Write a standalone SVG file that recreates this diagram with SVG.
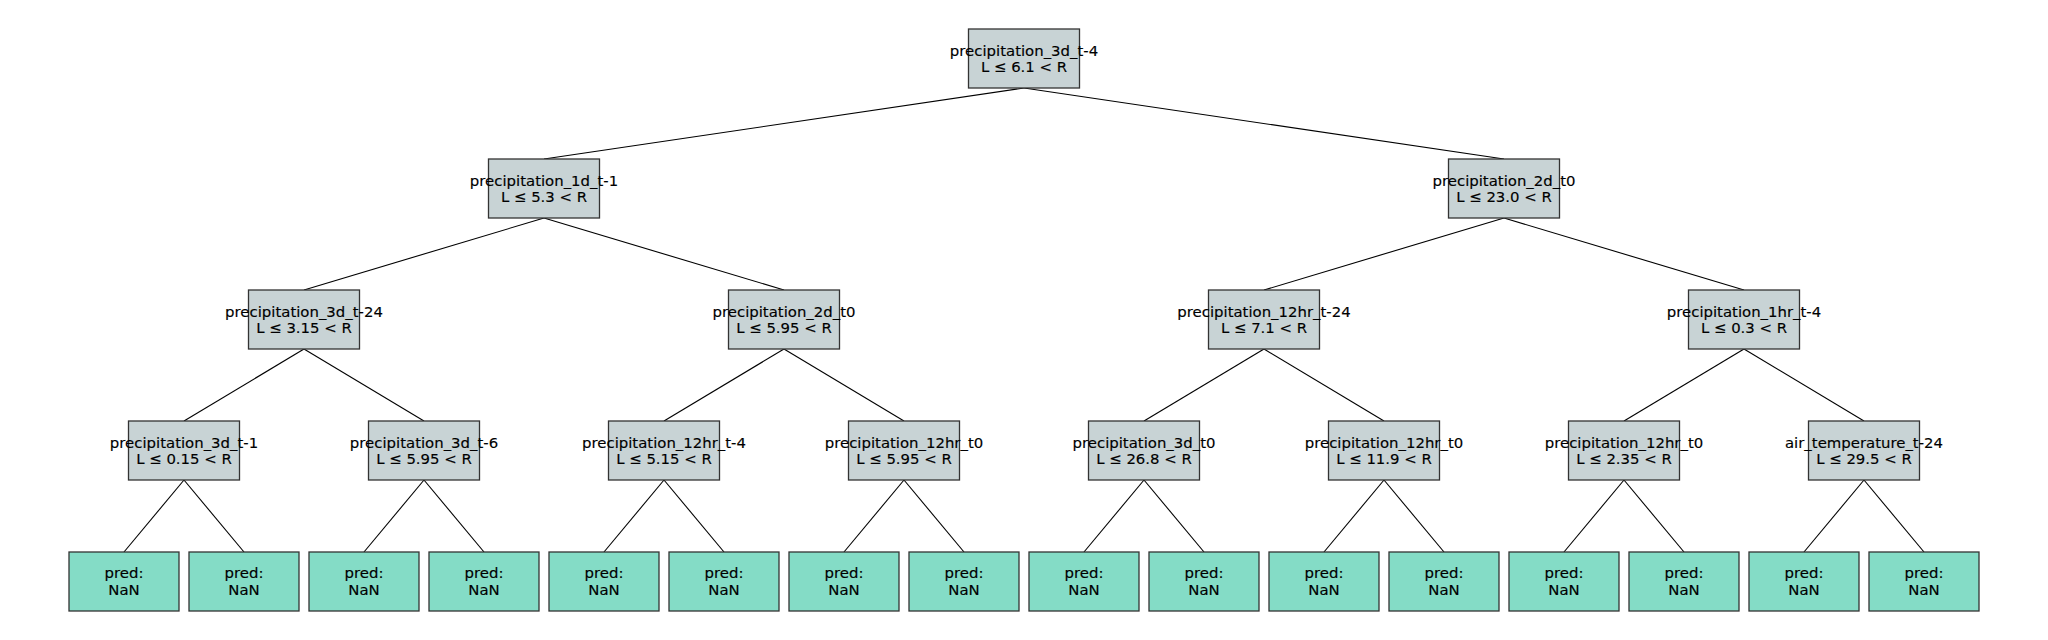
<svg xmlns="http://www.w3.org/2000/svg" width="2048" height="640" viewBox="0 0 2048 640">
<style>
.s{fill:#c8d3d5;stroke:#333;stroke-width:1.3}
.l{fill:#84dcc6;stroke:#333;stroke-width:1.3}
text{font-family:"DejaVu Sans",sans-serif;font-size:14.9px;fill:#000;stroke:#000;stroke-width:0.15;text-anchor:middle}
#edges line{stroke:#000;stroke-width:1.1}
</style>
<rect width="2048" height="640" fill="#fff"/>
<g id="edges">
<line x1="1024" y1="88" x2="544" y2="159"/>
<line x1="1024" y1="88" x2="1504" y2="159"/>
<line x1="544" y1="218" x2="304" y2="290"/>
<line x1="544" y1="218" x2="784" y2="290"/>
<line x1="1504" y1="218" x2="1264" y2="290"/>
<line x1="1504" y1="218" x2="1744" y2="290"/>
<line x1="304" y1="349" x2="184" y2="421"/>
<line x1="304" y1="349" x2="424" y2="421"/>
<line x1="784" y1="349" x2="664" y2="421"/>
<line x1="784" y1="349" x2="904" y2="421"/>
<line x1="1264" y1="349" x2="1144" y2="421"/>
<line x1="1264" y1="349" x2="1384" y2="421"/>
<line x1="1744" y1="349" x2="1624" y2="421"/>
<line x1="1744" y1="349" x2="1864" y2="421"/>
<line x1="184" y1="480" x2="124" y2="552"/>
<line x1="184" y1="480" x2="244" y2="552"/>
<line x1="424" y1="480" x2="364" y2="552"/>
<line x1="424" y1="480" x2="484" y2="552"/>
<line x1="664" y1="480" x2="604" y2="552"/>
<line x1="664" y1="480" x2="724" y2="552"/>
<line x1="904" y1="480" x2="844" y2="552"/>
<line x1="904" y1="480" x2="964" y2="552"/>
<line x1="1144" y1="480" x2="1084" y2="552"/>
<line x1="1144" y1="480" x2="1204" y2="552"/>
<line x1="1384" y1="480" x2="1324" y2="552"/>
<line x1="1384" y1="480" x2="1444" y2="552"/>
<line x1="1624" y1="480" x2="1564" y2="552"/>
<line x1="1624" y1="480" x2="1684" y2="552"/>
<line x1="1864" y1="480" x2="1804" y2="552"/>
<line x1="1864" y1="480" x2="1924" y2="552"/>
</g>
<g id="n0"><rect class="s" x="968.5" y="29" width="111" height="59"/><text x="1024" y="56">precipitation_3d_t-4</text><text x="1024" y="72">L ≤ 6.1 &lt; R</text></g>
<g id="n1"><rect class="s" x="488.5" y="159" width="111" height="59"/><text x="544" y="186">precipitation_1d_t-1</text><text x="544" y="202">L ≤ 5.3 &lt; R</text></g>
<g id="n2"><rect class="s" x="1448.5" y="159" width="111" height="59"/><text x="1504" y="186">precipitation_2d_t0</text><text x="1504" y="202">L ≤ 23.0 &lt; R</text></g>
<g id="n3"><rect class="s" x="248.5" y="290" width="111" height="59"/><text x="304" y="317">precipitation_3d_t-24</text><text x="304" y="333">L ≤ 3.15 &lt; R</text></g>
<g id="n4"><rect class="s" x="728.5" y="290" width="111" height="59"/><text x="784" y="317">precipitation_2d_t0</text><text x="784" y="333">L ≤ 5.95 &lt; R</text></g>
<g id="n5"><rect class="s" x="1208.5" y="290" width="111" height="59"/><text x="1264" y="317">precipitation_12hr_t-24</text><text x="1264" y="333">L ≤ 7.1 &lt; R</text></g>
<g id="n6"><rect class="s" x="1688.5" y="290" width="111" height="59"/><text x="1744" y="317">precipitation_1hr_t-4</text><text x="1744" y="333">L ≤ 0.3 &lt; R</text></g>
<g id="n7"><rect class="s" x="128.5" y="421" width="111" height="59"/><text x="184" y="448">precipitation_3d_t-1</text><text x="184" y="464">L ≤ 0.15 &lt; R</text></g>
<g id="n8"><rect class="s" x="368.5" y="421" width="111" height="59"/><text x="424" y="448">precipitation_3d_t-6</text><text x="424" y="464">L ≤ 5.95 &lt; R</text></g>
<g id="n9"><rect class="s" x="608.5" y="421" width="111" height="59"/><text x="664" y="448">precipitation_12hr_t-4</text><text x="664" y="464">L ≤ 5.15 &lt; R</text></g>
<g id="n10"><rect class="s" x="848.5" y="421" width="111" height="59"/><text x="904" y="448">precipitation_12hr_t0</text><text x="904" y="464">L ≤ 5.95 &lt; R</text></g>
<g id="n11"><rect class="s" x="1088.5" y="421" width="111" height="59"/><text x="1144" y="448">precipitation_3d_t0</text><text x="1144" y="464">L ≤ 26.8 &lt; R</text></g>
<g id="n12"><rect class="s" x="1328.5" y="421" width="111" height="59"/><text x="1384" y="448">precipitation_12hr_t0</text><text x="1384" y="464">L ≤ 11.9 &lt; R</text></g>
<g id="n13"><rect class="s" x="1568.5" y="421" width="111" height="59"/><text x="1624" y="448">precipitation_12hr_t0</text><text x="1624" y="464">L ≤ 2.35 &lt; R</text></g>
<g id="n14"><rect class="s" x="1808.5" y="421" width="111" height="59"/><text x="1864" y="448">air_temperature_t-24</text><text x="1864" y="464">L ≤ 29.5 &lt; R</text></g>
<g id="leaf0"><rect class="l" x="69" y="552" width="110" height="59"/><text x="124" y="578">pred:</text><text x="124" y="595">NaN</text></g>
<g id="leaf1"><rect class="l" x="189" y="552" width="110" height="59"/><text x="244" y="578">pred:</text><text x="244" y="595">NaN</text></g>
<g id="leaf2"><rect class="l" x="309" y="552" width="110" height="59"/><text x="364" y="578">pred:</text><text x="364" y="595">NaN</text></g>
<g id="leaf3"><rect class="l" x="429" y="552" width="110" height="59"/><text x="484" y="578">pred:</text><text x="484" y="595">NaN</text></g>
<g id="leaf4"><rect class="l" x="549" y="552" width="110" height="59"/><text x="604" y="578">pred:</text><text x="604" y="595">NaN</text></g>
<g id="leaf5"><rect class="l" x="669" y="552" width="110" height="59"/><text x="724" y="578">pred:</text><text x="724" y="595">NaN</text></g>
<g id="leaf6"><rect class="l" x="789" y="552" width="110" height="59"/><text x="844" y="578">pred:</text><text x="844" y="595">NaN</text></g>
<g id="leaf7"><rect class="l" x="909" y="552" width="110" height="59"/><text x="964" y="578">pred:</text><text x="964" y="595">NaN</text></g>
<g id="leaf8"><rect class="l" x="1029" y="552" width="110" height="59"/><text x="1084" y="578">pred:</text><text x="1084" y="595">NaN</text></g>
<g id="leaf9"><rect class="l" x="1149" y="552" width="110" height="59"/><text x="1204" y="578">pred:</text><text x="1204" y="595">NaN</text></g>
<g id="leaf10"><rect class="l" x="1269" y="552" width="110" height="59"/><text x="1324" y="578">pred:</text><text x="1324" y="595">NaN</text></g>
<g id="leaf11"><rect class="l" x="1389" y="552" width="110" height="59"/><text x="1444" y="578">pred:</text><text x="1444" y="595">NaN</text></g>
<g id="leaf12"><rect class="l" x="1509" y="552" width="110" height="59"/><text x="1564" y="578">pred:</text><text x="1564" y="595">NaN</text></g>
<g id="leaf13"><rect class="l" x="1629" y="552" width="110" height="59"/><text x="1684" y="578">pred:</text><text x="1684" y="595">NaN</text></g>
<g id="leaf14"><rect class="l" x="1749" y="552" width="110" height="59"/><text x="1804" y="578">pred:</text><text x="1804" y="595">NaN</text></g>
<g id="leaf15"><rect class="l" x="1869" y="552" width="110" height="59"/><text x="1924" y="578">pred:</text><text x="1924" y="595">NaN</text></g>
</svg>
